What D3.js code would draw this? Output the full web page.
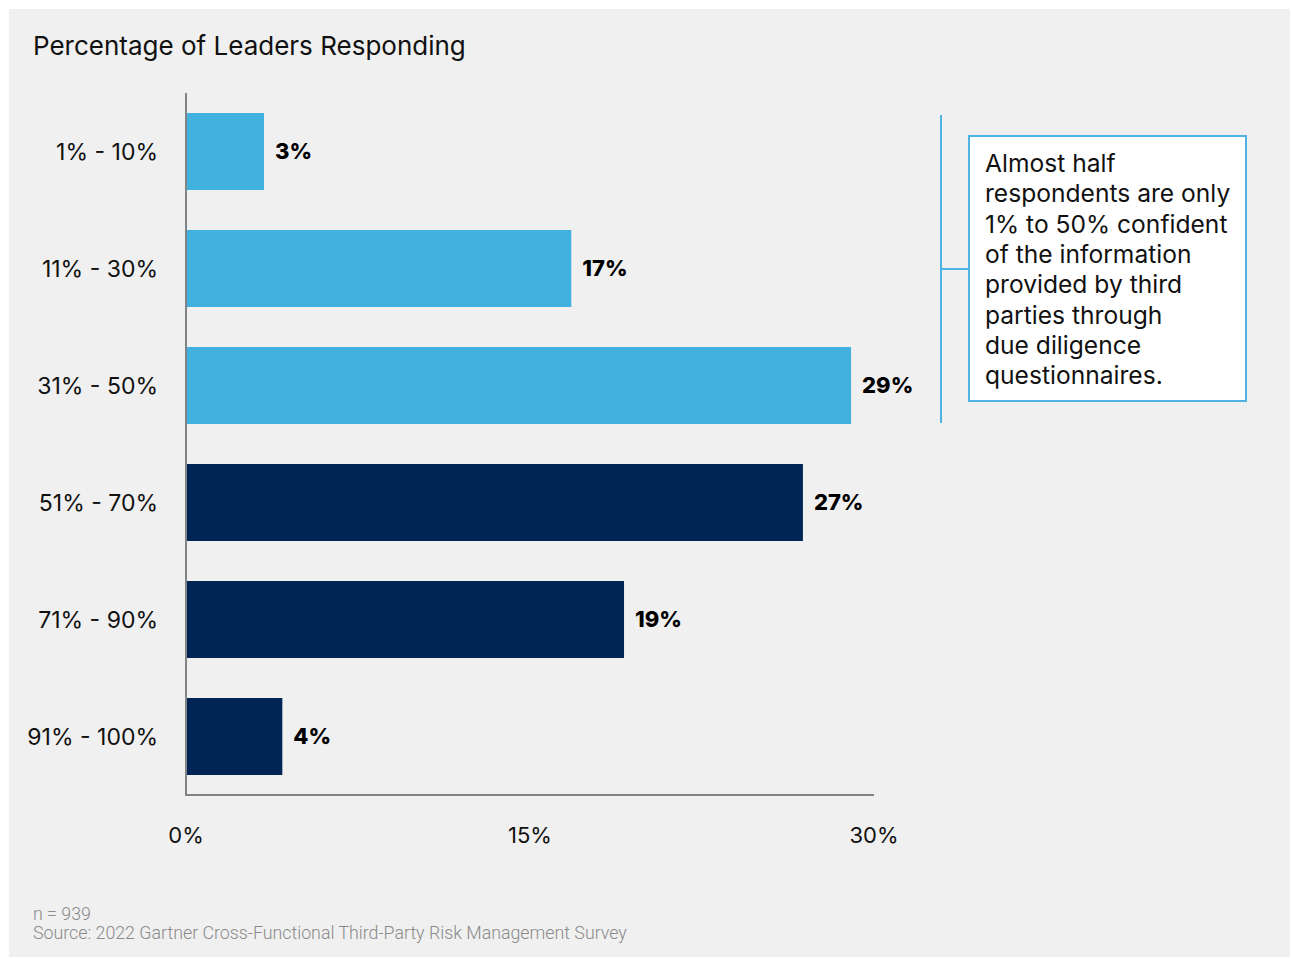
<!DOCTYPE html>
<html>
<head>
<meta charset="utf-8">
<script src="https://cdn.jsdelivr.net/npm/d3@7"></script>
<style>
  body { margin: 0; background: #fff; }
  svg text { font-family: Inter, "Noto Sans", sans-serif; }
</style>
</head>
<body>
<div id="chart"></div>
<script>
const categories = ["1% - 10%", "11% - 30%", "31% - 50%", "51% - 70%", "71% - 90%", "91% - 100%"];
const values = [3.4, 16.8, 29.0, 26.9, 19.1, 4.2];
const valueLabels = ["3%", "17%", "29%", "27%", "19%", "4%"];
const groups = ["low", "low", "low", "high", "high", "high"];
const xTicks = [0, 15, 30];
const noteLines = ["Almost half", "respondents are only", "1% to 50% confident", "of the information",
    "provided by third", "parties through", "due diligence", "questionnaires."];

const width = 1291, height = 958;

const svg = d3.select("#chart").append("svg")
    .attr("width", width)
    .attr("height", height);

// panel background
svg.append("rect")
    .attr("x", 9).attr("y", 9)
    .attr("width", 1281).attr("height", 948)
    .attr("fill", "#f0f0f0");

svg.append("text")
    .attr("x", 33).attr("y", 55)
    .attr("font-size", 26)
    .attr("fill", "#111")
    .text("Percentage of Leaders Responding");

const x = d3.scaleLinear()
    .domain([0, 30])
    .range([186, 874]);

const y = d3.scaleBand()
    .domain(categories)
    .range([93, 795])
    .paddingInner(0.342)
    .paddingOuter(0.171);

const color = d3.scaleOrdinal()
    .domain(["low", "high"])
    .range(["#41b1df", "#002554"]);

// bars
svg.selectAll(".bar")
    .data(values)
    .enter().append("rect")
    .attr("class", "bar")
    .attr("x", x(0))
    .attr("y", (d, i) => y(categories[i]))
    .attr("width", d => x(d) - x(0))
    .attr("height", y.bandwidth())
    .attr("fill", (d, i) => color(groups[i]));

// value labels
svg.selectAll(".val")
    .data(values)
    .enter().append("text")
    .attr("class", "val")
    .attr("x", d => x(d) + 11)
    .attr("y", (d, i) => y(categories[i]) + y.bandwidth() / 2)
    .attr("dy", "0.35em")
    .attr("font-size", 22)
    .attr("font-weight", 800)
    .attr("fill", "#000")
    .text((d, i) => valueLabels[i]);

// category labels
svg.selectAll(".cat")
    .data(categories)
    .enter().append("text")
    .attr("class", "cat")
    .attr("x", 158)
    .attr("y", d => y(d) + y.bandwidth() / 2)
    .attr("dy", "0.35em")
    .attr("text-anchor", "end")
    .attr("font-size", 23)
    .attr("fill", "#111")
    .text(d => d);

// axis lines
svg.append("line")
    .attr("x1", x(0)).attr("x2", x(0))
    .attr("y1", 93).attr("y2", 795)
    .attr("stroke", "#7f8585").attr("stroke-width", 2);
svg.append("line")
    .attr("x1", x(0) - 1).attr("x2", x(30))
    .attr("y1", 795).attr("y2", 795)
    .attr("stroke", "#7f8585").attr("stroke-width", 2);

// x tick labels
svg.selectAll(".tick")
    .data(xTicks)
    .enter().append("text")
    .attr("class", "tick")
    .attr("x", d => x(d))
    .attr("y", 843)
    .attr("text-anchor", "middle")
    .attr("font-size", 22)
    .attr("fill", "#111")
    .text(d => d + "%");

// annotation bracket
const blue = "#4db3e0";
svg.append("line")
    .attr("x1", 941).attr("x2", 941)
    .attr("y1", 115).attr("y2", 423)
    .attr("stroke", blue).attr("stroke-width", 2);
svg.append("line")
    .attr("x1", 941).attr("x2", 969)
    .attr("y1", 269).attr("y2", 269)
    .attr("stroke", blue).attr("stroke-width", 2);
svg.append("rect")
    .attr("x", 969).attr("y", 136)
    .attr("width", 277).attr("height", 265)
    .attr("fill", "#fff")
    .attr("stroke", blue).attr("stroke-width", 2);

svg.append("g").selectAll("text")
    .data(noteLines)
    .enter().append("text")
    .attr("x", 985)
    .attr("y", (d, i) => 172 + i * 30.3)
    .attr("font-size", 24.6)
    .attr("fill", "#111")
    .text(d => d);

// footer
svg.append("text")
    .attr("x", 33).attr("y", 920)
    .attr("font-size", 17.8)
    .attr("fill", "#8a8a8a")
    .style("font-family", "Roboto, sans-serif")
    .style("font-weight", 300)
    .text("n = 939");
svg.append("text")
    .attr("x", 33).attr("y", 939)
    .attr("font-size", 17.8)
    .attr("fill", "#8a8a8a")
    .style("font-family", "Roboto, sans-serif")
    .style("font-weight", 300)
    .text("Source: 2022 Gartner Cross-Functional Third-Party Risk Management Survey");
</script>
</body>
</html>
